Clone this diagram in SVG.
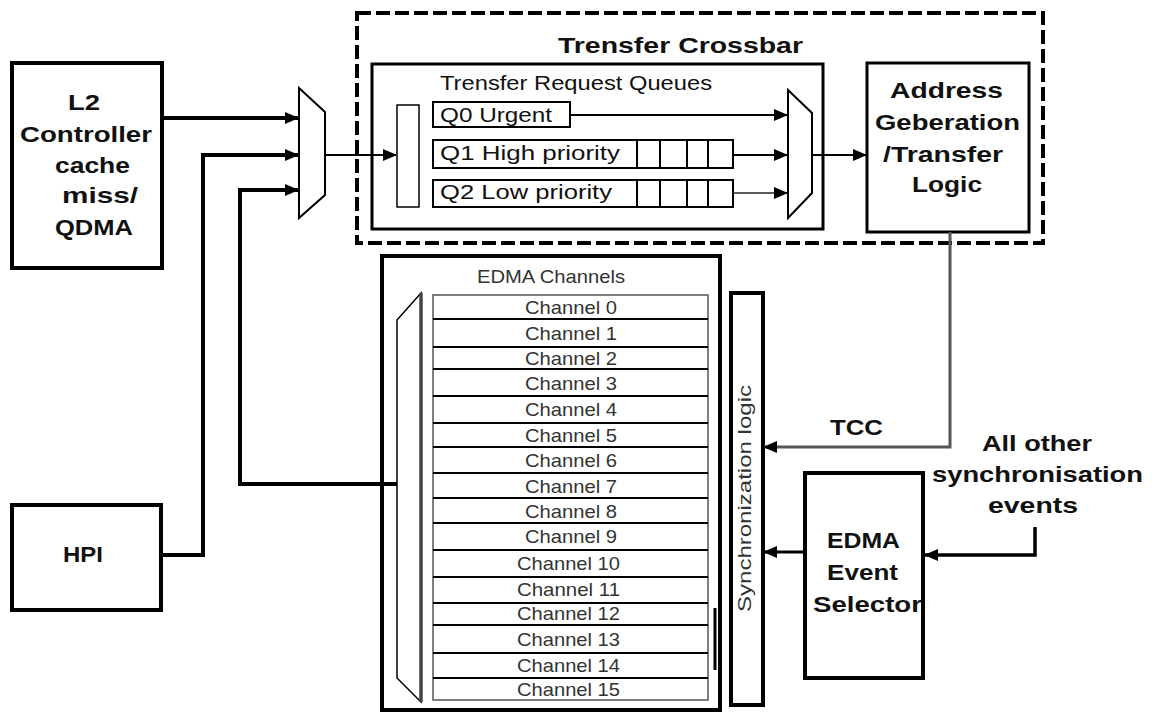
<svg xmlns="http://www.w3.org/2000/svg" width="1152" height="713" viewBox="0 0 1152 713">
<style>
.b{font-family:"Liberation Sans",Arial,sans-serif;font-weight:bold;font-size:22px;fill:#111}
.r{font-family:"Liberation Sans",Arial,sans-serif;font-size:20px;fill:#111}
.ch{font-family:"Liberation Sans",Arial,sans-serif;font-size:19px;fill:#333;text-anchor:middle}
.box{fill:#fff;stroke:#000;stroke-width:4}
.thin{fill:#fff;stroke:#000;stroke-width:2}
.w{fill:none;stroke:#000;stroke-width:4}
.w2{fill:none;stroke:#000;stroke-width:2}
.mid{text-anchor:middle}
</style>
<defs>
<marker id="arr" viewBox="0 0 14 12" refX="13" refY="6" markerWidth="14" markerHeight="12" markerUnits="userSpaceOnUse" orient="auto">
<path d="M0,0 L14,6 L0,12 Z" fill="#000"/>
</marker>
<marker id="arrg" viewBox="0 0 14 12" refX="13" refY="6" markerWidth="14" markerHeight="12" markerUnits="userSpaceOnUse" orient="auto">
<path d="M0,0 L14,6 L0,12 Z" fill="#000"/>
</marker>
</defs>
<rect width="1152" height="713" fill="#fff"/>

<g id="crossbar">
<rect x="357" y="13" width="686" height="230" fill="none" stroke="#000" stroke-width="4" stroke-dasharray="14 5"/>
<text class="b mid" x="680.5" y="53" textLength="245" lengthAdjust="spacingAndGlyphs">Trensfer Crossbar</text>
</g>

<g id="queues">
<rect x="372" y="64" width="451" height="165" fill="#fff" stroke="#000" stroke-width="3"/>
<text class="r" x="440" y="90" textLength="272" lengthAdjust="spacingAndGlyphs">Trensfer Request Queues</text>
<rect x="397" y="105" width="22" height="102" fill="#fff" stroke="#000" stroke-width="1.5"/>
<rect x="433" y="102" width="137" height="25" class="thin"/>
<text class="r" x="440" y="122" textLength="112" lengthAdjust="spacingAndGlyphs">Q0  Urgent</text>
<rect x="433" y="140" width="300" height="28" class="thin"/>
<path d="M637,140V168M660,140V168M687,140V168M708,140V168" class="w2"/>
<text class="r" x="440" y="160" textLength="180" lengthAdjust="spacingAndGlyphs">Q1  High priority</text>
<rect x="433" y="180" width="300" height="27" class="thin"/>
<path d="M637,180V207M660,180V207M687,180V207M708,180V207" class="w2"/>
<text class="r" x="440" y="199" textLength="172" lengthAdjust="spacingAndGlyphs">Q2  Low priority</text>
<polygon points="788,90 812,113 812,193 788,218" class="thin" stroke-width="2.5"/>
</g>

<g id="mux-in">
<polygon points="299,88 325,112 325,195 299,218" class="thin" stroke-width="3"/>
</g>

<g id="address">
<rect x="867" y="63" width="162" height="169" fill="#fff" stroke="#000" stroke-width="3"/>
<text class="b mid" x="946.5" y="98" textLength="113" lengthAdjust="spacingAndGlyphs">Address</text>
<text class="b mid" x="947.5" y="130" textLength="145" lengthAdjust="spacingAndGlyphs">Geberation</text>
<text class="b mid" x="943" y="162" textLength="120" lengthAdjust="spacingAndGlyphs">/Transfer</text>
<text class="b mid" x="947" y="192" textLength="70" lengthAdjust="spacingAndGlyphs">Logic</text>
</g>

<g id="l2">
<rect x="12" y="63" width="150" height="205" class="box"/>
<text class="b mid" x="84" y="110" textLength="32" lengthAdjust="spacingAndGlyphs">L2</text>
<text class="b mid" x="86" y="142" textLength="132" lengthAdjust="spacingAndGlyphs">Controller</text>
<text class="b mid" x="92.5" y="173" textLength="75" lengthAdjust="spacingAndGlyphs">cache</text>
<text class="b mid" x="100" y="203" textLength="76" lengthAdjust="spacingAndGlyphs">miss/</text>
<text class="b mid" x="94" y="235" textLength="78" lengthAdjust="spacingAndGlyphs">QDMA</text>
</g>

<g id="hpi">
<rect x="12" y="505" width="149" height="105" class="box"/>
<text class="b mid" x="83" y="562" textLength="40" lengthAdjust="spacingAndGlyphs">HPI</text>
</g>

<g id="edma-channels">
<rect x="382" y="256" width="338" height="454" class="box"/>
<text class="ch" x="551" y="283" fill="#222" textLength="148" lengthAdjust="spacingAndGlyphs">EDMA Channels</text>
<polygon points="421,293 397,320 397,678 421,702" fill="#fff" stroke="#000" stroke-width="1.5"/>
<path d="M421,293V702" stroke="#444" stroke-width="3.5"/>
<rect x="433" y="295" width="275" height="405" fill="#fff" stroke="#555" stroke-width="1.5"/>
<path d="M433,319H708M433,347H708M433,369H708M433,396H708M433,423H708M433,447H708M433,473H708M433,498H708M433,523H708M433,550H708M433,577H708M433,603H708M433,625H708M433,653H708M433,678H708" fill="none" stroke="#000" stroke-width="2"/>
<path d="M715,608V670" stroke="#000" stroke-width="3"/>
<text class="ch" x="571" y="314" textLength="92" lengthAdjust="spacingAndGlyphs">Channel 0</text>
<text class="ch" x="571" y="340" textLength="92" lengthAdjust="spacingAndGlyphs">Channel 1</text>
<text class="ch" x="571" y="365" textLength="92" lengthAdjust="spacingAndGlyphs">Channel 2</text>
<text class="ch" x="571" y="390" textLength="92" lengthAdjust="spacingAndGlyphs">Channel 3</text>
<text class="ch" x="571" y="416" textLength="92" lengthAdjust="spacingAndGlyphs">Channel 4</text>
<text class="ch" x="571" y="442" textLength="92" lengthAdjust="spacingAndGlyphs">Channel 5</text>
<text class="ch" x="571" y="467" textLength="92" lengthAdjust="spacingAndGlyphs">Channel 6</text>
<text class="ch" x="571" y="493" textLength="92" lengthAdjust="spacingAndGlyphs">Channel 7</text>
<text class="ch" x="571" y="518" textLength="92" lengthAdjust="spacingAndGlyphs">Channel 8</text>
<text class="ch" x="571" y="543" textLength="92" lengthAdjust="spacingAndGlyphs">Channel 9</text>
<text class="ch" x="568.5" y="570" textLength="103" lengthAdjust="spacingAndGlyphs">Channel 10</text>
<text class="ch" x="568.5" y="596" textLength="103" lengthAdjust="spacingAndGlyphs">Channel 11</text>
<text class="ch" x="568.5" y="620" textLength="103" lengthAdjust="spacingAndGlyphs">Channel 12</text>
<text class="ch" x="568.5" y="646" textLength="103" lengthAdjust="spacingAndGlyphs">Channel 13</text>
<text class="ch" x="568.5" y="672" textLength="103" lengthAdjust="spacingAndGlyphs">Channel 14</text>
<text class="ch" x="568.5" y="696" textLength="103" lengthAdjust="spacingAndGlyphs">Channel 15</text>
</g>

<g id="sync-logic">
<rect x="731" y="293" width="32" height="412" class="box"/>
<text class="ch" x="0" y="0" transform="translate(751,498.5) rotate(-90)" textLength="227" lengthAdjust="spacingAndGlyphs" fill="#111">Synchronization logic</text>
</g>

<g id="event-selector">
<rect x="805" y="473" width="118" height="205" class="box"/>
<text class="b mid" x="863.5" y="548" textLength="73" lengthAdjust="spacingAndGlyphs">EDMA</text>
<text class="b mid" x="862.5" y="580" textLength="71" lengthAdjust="spacingAndGlyphs">Event</text>
<text class="b mid" x="867.5" y="612" textLength="109" lengthAdjust="spacingAndGlyphs">Selector</text>
</g>

<g id="labels">
<text class="b mid" x="856.5" y="435" textLength="53" lengthAdjust="spacingAndGlyphs">TCC</text>
<text class="b mid" x="1037" y="451" textLength="110" lengthAdjust="spacingAndGlyphs">All other</text>
<text class="b mid" x="1037.5" y="482" textLength="211" lengthAdjust="spacingAndGlyphs">synchronisation</text>
<text class="b mid" x="1033" y="513" textLength="90" lengthAdjust="spacingAndGlyphs">events</text>
</g>

<g id="connectors">
<path d="M163,118H298" class="w" marker-end="url(#arr)"/>
<path d="M161,555H203V155H298" class="w" marker-end="url(#arr)"/>
<path d="M397,484H240V190H298" class="w" stroke-width="4.5" marker-end="url(#arr)"/>
<path d="M325,155H396" class="w2" marker-end="url(#arr)"/>
<path d="M570,115H787" class="w2" marker-end="url(#arr)"/>
<path d="M733,155H787" class="w2" marker-end="url(#arr)"/>
<path d="M733,193H787" fill="none" stroke="#222" stroke-width="1.5" marker-end="url(#arr)"/>
<path d="M812,155H866" class="w2" marker-end="url(#arr)"/>
<path d="M950,232V447H764" fill="none" stroke="#555" stroke-width="3" marker-end="url(#arrg)"/>
<path d="M1035,527V555H925" fill="none" stroke="#000" stroke-width="3.5" marker-end="url(#arr)"/>
<path d="M805,552H764" fill="none" stroke="#000" stroke-width="3" marker-end="url(#arr)"/>
</g>
</svg>
